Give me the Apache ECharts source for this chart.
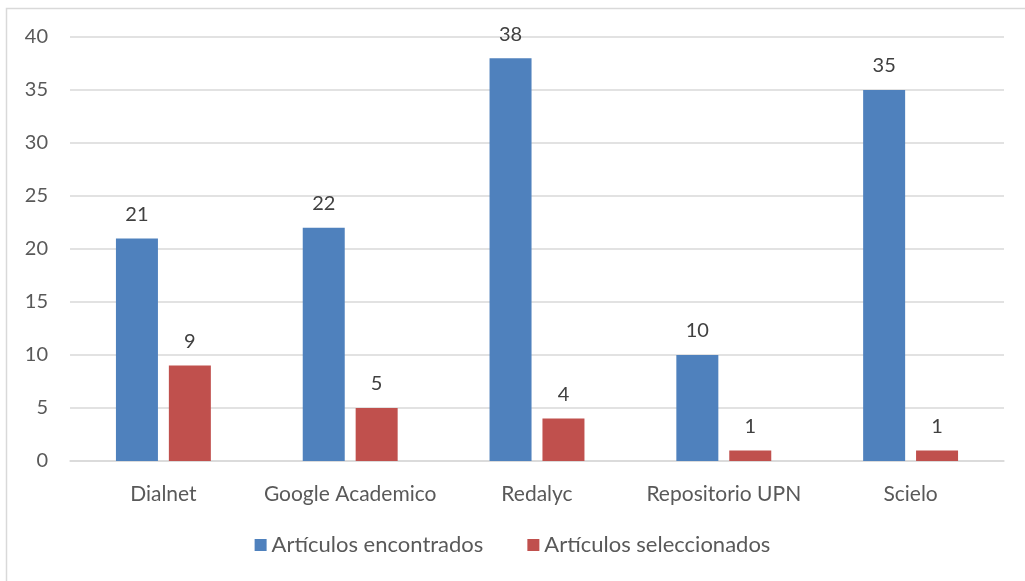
<!DOCTYPE html>
<html>
<head>
<meta charset="utf-8">
<script src="https://cdn.jsdelivr.net/npm/echarts@6/dist/echarts.min.js"></script>
<style>
  html, body { margin: 0; padding: 0; background: #fff; }
  #chart { width: 1025px; height: 581px; }
</style>
</head>
<body>
<div id="chart"></div>
<script>
const categories = ['Dialnet', 'Google Academico', 'Redalyc', 'Repositorio UPN', 'Scielo'];
const encontrados = [21, 22, 38, 10, 35];
const seleccionados = [9, 5, 4, 1, 1];
const seriesNames = ['Artículos encontrados', 'Artículos seleccionados'];

const font = 'Lato, "Noto Sans", sans-serif';

const chart = echarts.init(document.getElementById('chart'));
chart.setOption({
    animation: false,
    backgroundColor: '#fff',
    textStyle: { fontFamily: font },
    grid: { left: 70, right: 21, top: 37, bottom: 120 },
    legend: {
        bottom: 20,
        left: 'center',
        itemWidth: 12,
        itemHeight: 12,
        itemGap: 44,
        icon: 'rect',
        textStyle: { fontSize: 22, color: '#595959', fontFamily: font }
    },
    xAxis: {
        type: 'category',
        data: categories,
        axisTick: { show: false },
        axisLine: { lineStyle: { color: '#d9d9d9', width: 1.5 } },
        axisLabel: { fontSize: 21, color: '#595959', margin: 23, interval: 0 }
    },
    yAxis: {
        type: 'value',
        min: 0,
        max: 40,
        interval: 5,
        axisLine: { show: false },
        axisTick: { show: false },
        splitLine: { lineStyle: { color: '#d9d9d9', width: 1.5 } },
        axisLabel: { fontSize: 20, color: '#595959', margin: 22 }
    },
    series: [
        {
            name: seriesNames[0],
            type: 'bar',
            data: encontrados,
            barWidth: 42,
            barGap: '26%',
            itemStyle: { color: '#4f81bd' },
            label: { show: true, position: 'top', distance: 14, fontSize: 20, color: '#404040' }
        },
        {
            name: seriesNames[1],
            type: 'bar',
            data: seleccionados,
            barWidth: 42,
            itemStyle: { color: '#c0504d' },
            label: { show: true, position: 'top', distance: 14, fontSize: 20, color: '#404040' }
        }
    ],
    graphic: [
        // outer frame (left and top edges visible in the reference)
        {
            type: 'polyline',
            shape: { points: [[6.5, 581], [6.5, 8.5], [1025, 8.5]] },
            style: { stroke: '#d9d9d9', lineWidth: 1.5, fill: null }
        }
    ]
});
</script>
</body>
</html>
